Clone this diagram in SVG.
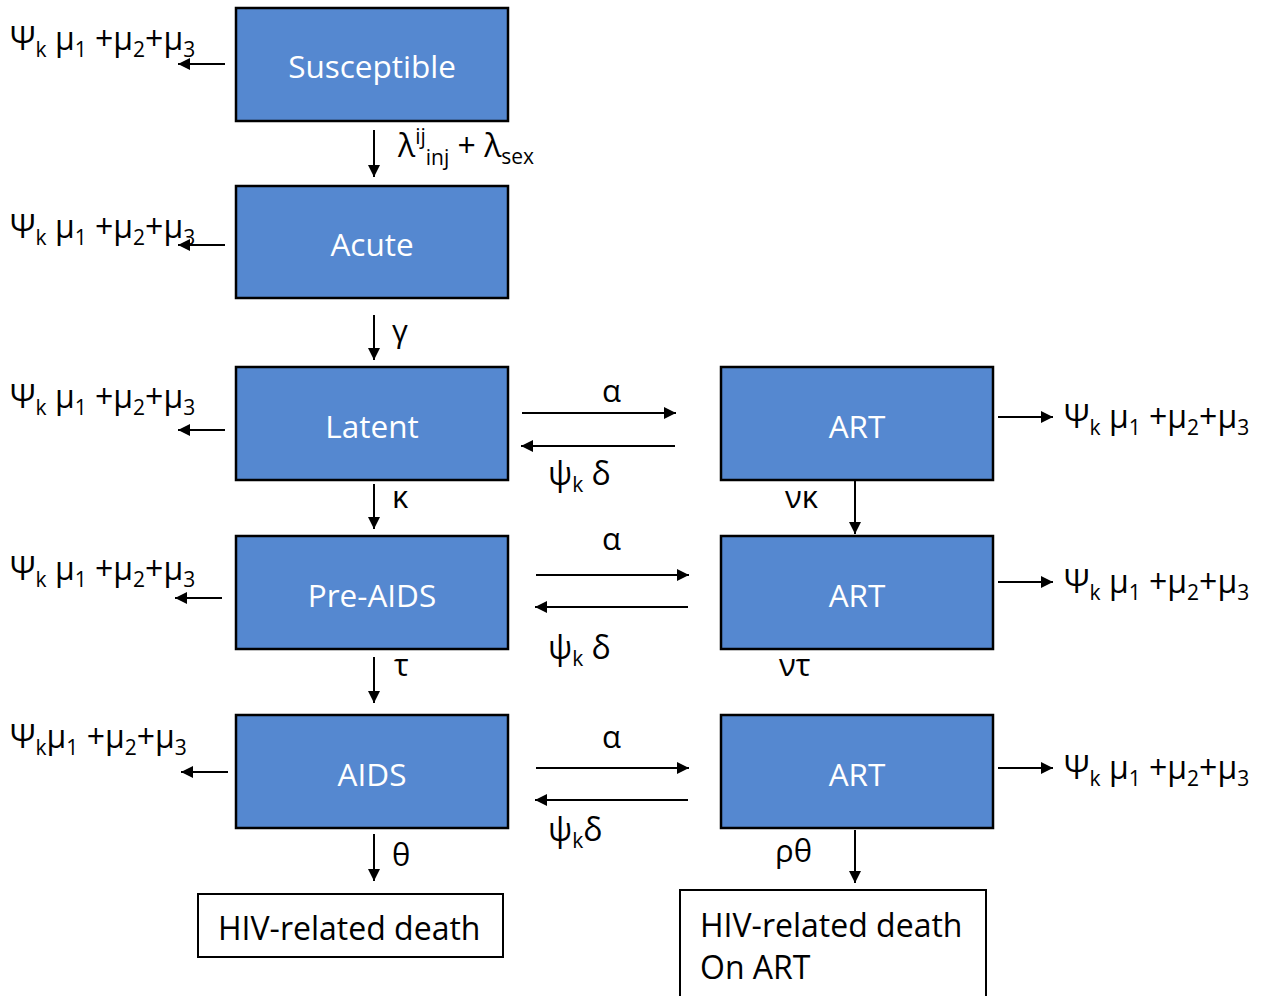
<svg xmlns="http://www.w3.org/2000/svg" width="1262" height="996" viewBox="0 0 1262 996">
<defs>
<marker id="ah" viewBox="0 0 10 10" refX="10" refY="5" markerWidth="7" markerHeight="6" orient="auto-start-reverse" markerUnits="strokeWidth">
<path d="M0,0 L10,5 L0,10 z" fill="#000"/>
</marker>
<style>
.box{fill:#5588D0;stroke:#000;stroke-width:2.5}
.wbox{fill:#fff;stroke:#000;stroke-width:2}
.bt{font-family:"Open Sans","Liberation Sans",sans-serif;font-size:31.5px;fill:#fff;text-anchor:middle}
.dt{font-family:"Open Sans","Liberation Sans",sans-serif;font-size:32px;fill:#000}
.lb{font-family:"Open Sans","Liberation Sans",sans-serif;font-size:32px;fill:#000}
.gl{font-family:"Open Sans","Liberation Sans",sans-serif;font-size:31px;fill:#000}
.sb{font-size:21px}
.ar{stroke:#000;stroke-width:2;fill:none;marker-end:url(#ah)}
</style>
</defs>
<rect width="1262" height="996" fill="#fff"/>
<g id="susceptible"><rect class="box" x="236" y="8" width="272" height="113"/><text class="bt" x="372" y="78">Susceptible</text></g>
<g id="acute"><rect class="box" x="236" y="186" width="272" height="112"/><text class="bt" x="372" y="256">Acute</text></g>
<g id="latent"><rect class="box" x="236" y="367" width="272" height="113"/><text class="bt" x="372" y="438">Latent</text></g>
<g id="preaids"><rect class="box" x="236" y="536" width="272" height="113"/><text class="bt" x="372" y="607">Pre-AIDS</text></g>
<g id="aids"><rect class="box" x="236" y="715" width="272" height="113"/><text class="bt" x="372" y="786">AIDS</text></g>
<g id="art1"><rect class="box" x="721" y="367" width="272" height="113"/><text class="bt" x="857" y="438">ART</text></g>
<g id="art2"><rect class="box" x="721" y="536" width="272" height="113"/><text class="bt" x="857" y="607">ART</text></g>
<g id="art3"><rect class="box" x="721" y="715" width="272" height="113"/><text class="bt" x="857" y="786">ART</text></g>
<g id="death"><rect class="wbox" x="198" y="894" width="305" height="63"/><text class="dt" x="218" y="940">HIV-related death</text></g>
<g id="deathart"><rect class="wbox" x="680" y="890" width="306" height="120"/><text class="dt" x="700" y="937">HIV-related death</text><text class="dt" x="700" y="979">On ART</text></g>
<g id="connectors">
<line class="ar" x1="225" y1="64" x2="178" y2="64"/>
<line class="ar" x1="225" y1="245" x2="178" y2="245"/>
<line class="ar" x1="225" y1="430" x2="178" y2="430"/>
<line class="ar" x1="222" y1="598" x2="175" y2="598"/>
<line class="ar" x1="228" y1="772" x2="181" y2="772"/>
<line class="ar" x1="374" y1="130" x2="374" y2="177"/>
<line class="ar" x1="374" y1="315" x2="374" y2="360"/>
<line class="ar" x1="374" y1="484" x2="374" y2="529"/>
<line class="ar" x1="374" y1="657" x2="374" y2="703"/>
<line class="ar" x1="374" y1="834" x2="374" y2="881"/>
<line class="ar" x1="522" y1="413" x2="676" y2="413"/>
<line class="ar" x1="675" y1="446" x2="521" y2="446"/>
<line class="ar" x1="536" y1="575" x2="689" y2="575"/>
<line class="ar" x1="688" y1="607" x2="535" y2="607"/>
<line class="ar" x1="536" y1="768" x2="689" y2="768"/>
<line class="ar" x1="688" y1="800" x2="535" y2="800"/>
<line class="ar" x1="855" y1="481" x2="855" y2="534"/>
<line class="ar" x1="855" y1="830" x2="855" y2="883"/>
<line class="ar" x1="998" y1="417" x2="1053" y2="417"/>
<line class="ar" x1="998" y1="582" x2="1053" y2="582"/>
<line class="ar" x1="998" y1="768" x2="1053" y2="768"/>
</g>
<g id="labels">
<text class="lb" x="10" y="50">Ψ<tspan class="sb" dy="7">k</tspan><tspan dy="-7"> μ</tspan><tspan class="sb" dy="7">1</tspan><tspan dy="-7">  +μ</tspan><tspan class="sb" dy="7">2</tspan><tspan dy="-7">+μ</tspan><tspan class="sb" dy="7">3</tspan></text>
<text class="lb" x="10" y="238">Ψ<tspan class="sb" dy="7">k</tspan><tspan dy="-7"> μ</tspan><tspan class="sb" dy="7">1</tspan><tspan dy="-7"> +μ</tspan><tspan class="sb" dy="7">2</tspan><tspan dy="-7">+μ</tspan><tspan class="sb" dy="7">3</tspan></text>
<text class="lb" x="10" y="408">Ψ<tspan class="sb" dy="7">k</tspan><tspan dy="-7"> μ</tspan><tspan class="sb" dy="7">1</tspan><tspan dy="-7">  +μ</tspan><tspan class="sb" dy="7">2</tspan><tspan dy="-7">+μ</tspan><tspan class="sb" dy="7">3</tspan></text>
<text class="lb" x="10" y="580">Ψ<tspan class="sb" dy="7">k</tspan><tspan dy="-7"> μ</tspan><tspan class="sb" dy="7">1</tspan><tspan dy="-7">  +μ</tspan><tspan class="sb" dy="7">2</tspan><tspan dy="-7">+μ</tspan><tspan class="sb" dy="7">3</tspan></text>
<text class="lb" x="10" y="748">Ψ<tspan class="sb" dy="7">k</tspan><tspan dy="-7">μ</tspan><tspan class="sb" dy="7">1</tspan><tspan dy="-7">  +μ</tspan><tspan class="sb" dy="7">2</tspan><tspan dy="-7">+μ</tspan><tspan class="sb" dy="7">3</tspan></text>
<text class="lb" x="1064" y="428">Ψ<tspan class="sb" dy="7">k</tspan><tspan dy="-7"> μ</tspan><tspan class="sb" dy="7">1</tspan><tspan dy="-7">  +μ</tspan><tspan class="sb" dy="7">2</tspan><tspan dy="-7">+μ</tspan><tspan class="sb" dy="7">3</tspan></text>
<text class="lb" x="1064" y="593">Ψ<tspan class="sb" dy="7">k</tspan><tspan dy="-7"> μ</tspan><tspan class="sb" dy="7">1</tspan><tspan dy="-7">  +μ</tspan><tspan class="sb" dy="7">2</tspan><tspan dy="-7">+μ</tspan><tspan class="sb" dy="7">3</tspan></text>
<text class="lb" x="1064" y="779">Ψ<tspan class="sb" dy="7">k</tspan><tspan dy="-7"> μ</tspan><tspan class="sb" dy="7">1</tspan><tspan dy="-7">  +μ</tspan><tspan class="sb" dy="7">2</tspan><tspan dy="-7">+μ</tspan><tspan class="sb" dy="7">3</tspan></text>
<text class="lb" x="398" y="157">λ<tspan class="sb" dy="-13">ij</tspan><tspan class="sb" dy="21">inj</tspan><tspan dy="-8"> + λ</tspan><tspan class="sb" dy="7">sex</tspan></text>
<text class="gl" x="392" y="342">γ</text>
<text class="gl" x="392" y="508">κ</text>
<text class="gl" x="394" y="676">τ</text>
<text class="gl" x="392" y="866">θ</text>
<text class="gl" x="602" y="402">α</text>
<text class="gl" x="602" y="550">α</text>
<text class="gl" x="602" y="748">α</text>
<text class="lb" x="548" y="485">ψ<tspan class="sb" dy="7">k</tspan><tspan dy="-7"> δ</tspan></text>
<text class="lb" x="548" y="659">ψ<tspan class="sb" dy="7">k</tspan><tspan dy="-7"> δ</tspan></text>
<text class="lb" x="548" y="841">ψ<tspan class="sb" dy="7">k</tspan><tspan dy="-7">δ</tspan></text>
<text class="gl" x="785" y="508">νκ</text>
<text class="gl" x="779" y="676">ντ</text>
<text class="gl" x="775" y="862">ρθ</text>
</g>
</svg>
